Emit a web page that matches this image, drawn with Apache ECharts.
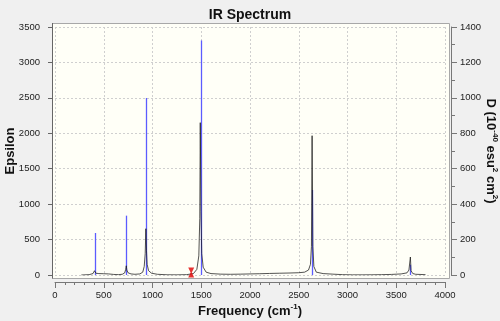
<!DOCTYPE html>
<html>
<head>
<meta charset="utf-8">
<script src="https://cdn.jsdelivr.net/npm/echarts@6/dist/echarts.min.js"></script>
<style>
html,body{margin:0;padding:0;background:#F0F0F0;}
#c{width:500px;height:321px;}
</style>
</head>
<body>
<div id="c"></div>
<script>
// Blue stick frequencies (cm^-1) and intensities (D units, right axis)
var stickFreq = [406, 731, 936, 1493, 2637, 3645];
var stickD    = [237, 335, 999, 1324, 480, 58];

// Broadened spectrum (black curve): frequency and epsilon
var specFreq = [270,350,390,400,405,410,420,450,500,550,600,650,690,715,725,731,737,750,780,820,870,900,915,925,932,938,945,960,990,1050,1150,1250,1350,1420,1455,1475,1485,1490,1497,1505,1520,1550,1600,1700,1800,1900,2000,2100,2200,2300,2400,2500,2560,2600,2620,2630,2637,2645,2655,2680,2750,2850,2950,3050,3150,3250,3350,3450,3550,3610,3630,3645,3652,3670,3700,3800];
var specEps  = [0,5,20,45,60,40,25,20,18,15,8,5,10,30,80,130,70,30,15,10,15,40,120,300,653,350,150,60,25,10,3,2,5,20,80,270,800,2150,900,300,110,40,20,12,10,12,15,18,22,25,28,32,40,70,150,400,1966,400,120,40,20,12,5,2,2,3,5,8,15,30,70,254,60,20,10,5];

// Red marker
var markerFreq = [1397];
var markerEps = [37];

var specData = specFreq.map(function(f,i){return [f, specEps[i]];});
var stickData = stickFreq.map(function(f,i){return [f, stickD[i]];});
var markerData = markerFreq.map(function(f,i){return [f, markerEps[i]];});

var plain = function(v){ return String(v); };

var chart = echarts.init(document.getElementById('c'));
var lblFont = 'Liberation Sans, Arial, sans-serif';
chart.setOption({
  backgroundColor: '#F0F0F0',
  animation: false,
  title: {
    text: 'IR Spectrum', left: 'center', top: 3,
    textStyle: {fontFamily: lblFont, fontSize: 14, fontWeight: 'bold', color: '#111'}
  },
  graphic: {
    elements: [{
      type: 'rect', z: -10, silent: true,
      shape: {x: 52.5, y: 23.5, width: 397, height: 255},
      style: {fill: '#FFFFF7', stroke: '#A8A8A8', lineWidth: 1}
    }, {
      type: 'line', z: -9, silent: true,
      shape: {x1: 52.5, y1: 23, x2: 52.5, y2: 278.5},
      style: {stroke: '#666', lineWidth: 1}
    }]
  },
  grid: {left: 55, right: 55, top: 27, bottom: 46, containLabel: false, outerBoundsMode: 'none'},
  xAxis: {
    type: 'value', min: 0, max: 4000, interval: 500,
    offset: 7,
    name: 'Frequency (cm{sup|-1})',
    nameLocation: 'middle', nameGap: 21, nameMoveOverlap: false,
    nameTextStyle: {
      fontFamily: lblFont, fontSize: 13, fontWeight: 'bold', color: '#111',
      lineHeight: 16,
      rich: {sup: {fontFamily: lblFont, fontSize: 8, fontWeight: 'bold', color: '#111', verticalAlign: 'top', lineHeight: 16}}
    },
    axisLine: {show: true, onZero: false, lineStyle: {color: '#777', width: 1}},
    axisTick: {show: true, length: 6, lineStyle: {color: '#777'}},
    minorTick: {show: true, splitNumber: 5, length: 3, lineStyle: {color: '#777'}},
    axisLabel: {fontFamily: lblFont, fontSize: 9.5, color: '#222', margin: 8, formatter: plain},
    splitLine: {show: true, lineStyle: {color: '#CFCFCF', type: [2, 2], width: 1}}
  },
  yAxis: [{
    type: 'value', min: 0, max: 3500, interval: 500, position: 'left',
    offset: 3,
    name: 'Epsilon', nameLocation: 'middle', nameGap: 35, nameRotate: 90, nameMoveOverlap: false,
    nameTextStyle: {fontFamily: lblFont, fontSize: 13, fontWeight: 'bold', color: '#111'},
    axisLine: {show: false, onZero: false},
    axisTick: {show: true, length: 4, lineStyle: {color: '#666'}},
    axisLabel: {fontFamily: lblFont, fontSize: 9.5, color: '#222', margin: 12, formatter: plain},
    splitLine: {show: true, lineStyle: {color: '#CFCFCF', type: [2, 2], width: 1}}
  }, {
    type: 'value', min: 0, max: 1400, interval: 200, position: 'right',
    offset: 6,
    name: 'D (10{sup|-40} esu{sup|2} cm{sup|2})', nameLocation: 'middle', nameGap: 32, nameRotate: -90, nameMoveOverlap: false,
    nameTextStyle: {
      fontFamily: lblFont, fontSize: 13, fontWeight: 'bold', color: '#111', lineHeight: 16,
      rich: {sup: {fontFamily: lblFont, fontSize: 8, fontWeight: 'bold', color: '#111', verticalAlign: 'top', lineHeight: 16}}
    },
    axisLine: {show: true, onZero: false, lineStyle: {color: '#777', width: 1}},
    axisTick: {show: true, length: 6, lineStyle: {color: '#777'}},
    minorTick: {show: true, splitNumber: 2, length: 4, lineStyle: {color: '#777'}},
    axisLabel: {fontFamily: lblFont, fontSize: 9.5, color: '#222', margin: 9, formatter: plain},
    splitLine: {show: false}
  }],
  series: [{
    type: 'custom', yAxisIndex: 1, z: 2,
    data: stickData,
    renderItem: function(params, api){
      var p0 = api.coord([api.value(0), 0]);
      var p1 = api.coord([api.value(0), api.value(1)]);
      return {type: 'line', shape: {x1: Math.round(p0[0]) + 0.5, y1: p0[1], x2: Math.round(p1[0]) + 0.5, y2: p1[1]},
              style: {stroke: '#5C5CFF', lineWidth: 1.3}};
    }
  }, {
    type: 'line', yAxisIndex: 0, z: 3,
    data: specData, showSymbol: false, symbol: 'none',
    lineStyle: {color: '#1a1a1a', width: 1, opacity: 0.75}
  }, {
    type: 'scatter', yAxisIndex: 0, z: 4,
    data: markerData,
    symbol: 'path://M0,0 L10,0 L6,5 L10,10 L0,10 L4,5 Z',
    symbolSize: [6, 10],
    itemStyle: {color: '#E00000'}
  }]
});
</script>
</body>
</html>
